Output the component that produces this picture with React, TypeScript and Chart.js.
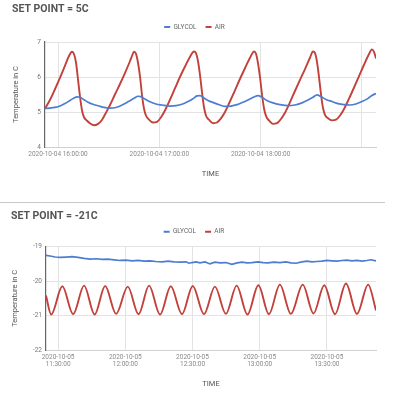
import React, { useEffect, useRef } from "react";
import { Chart, registerables } from "chart.js";

Chart.register(...registerables);

const FONT = "Roboto, 'Noto Sans', 'DejaVu Sans', sans-serif";
const BLUE = "#4d7dd1";
const RED = "#c2413b";
const GRID = "#e3e3e3";

// ---------- SET POINT = 5C  (x = minutes after 2020-10-04 15:00) ----------
const title5 = "SET POINT = 5C";
const xRange5 = [52.3, 248.3];
const xTicks5 = [60, 120, 180, 240];
const xTickLabels5 = ["2020-10-04 16:00:00", "2020-10-04 17:00:00", "2020-10-04 18:00:00", ""];
const yTicks5 = [4, 5, 6, 7];

const airTimes5 = [
  52.3, 55.3, 58.2, 61.2, 64.1, 66.5, 68.3, 69.5, 70.7, 71.8, 73.0, 74.2, 75.4, 77.2, 78.9, 81.3,
  83.7, 86.1, 88.4, 90.8, 93.7, 96.7, 99.7, 102.6, 103.8, 105.0, 106.2, 107.4, 108.6, 109.7, 110.9, 112.1,
  113.9, 116.2, 118.6, 121.0, 123.4, 126.3, 129.3, 132.2, 135.2, 138.2, 140.5, 141.7, 142.9, 144.1, 145.3, 146.4,
  147.6, 149.4, 151.8, 154.1, 156.5, 158.9, 161.8, 164.8, 167.8, 170.7, 173.7, 176.1, 177.2, 178.4, 179.6, 180.8,
  182.0, 183.2, 184.9, 187.3, 189.7, 192.0, 194.4, 197.4, 200.3, 203.3, 206.2, 209.2, 211.0, 212.2, 213.4, 214.5,
  215.7, 216.9, 218.1, 219.9, 222.2, 224.6, 227.0, 229.3, 232.3, 235.3, 238.2, 241.2, 244.1, 245.9, 247.1, 248.3,
];
const air5 = [
  5.1, 5.35, 5.65, 5.98, 6.32, 6.6, 6.72, 6.65, 6.4, 5.95, 5.45, 5.05, 4.85, 4.75, 4.68, 4.62,
  4.66, 4.78, 4.98, 5.2, 5.5, 5.8, 6.12, 6.45, 6.6, 6.72, 6.66, 6.4, 6.0, 5.5, 5.1, 4.9,
  4.78, 4.7, 4.72, 4.85, 5.05, 5.35, 5.68, 6.0, 6.3, 6.58, 6.73, 6.68, 6.45, 6.05, 5.55, 5.15,
  4.9, 4.78, 4.68, 4.7, 4.82, 5.0, 5.3, 5.62, 5.95, 6.25, 6.55, 6.73, 6.67, 6.4, 6.0, 5.5,
  5.1, 4.88, 4.76, 4.66, 4.68, 4.8, 4.98, 5.28, 5.6, 5.92, 6.22, 6.55, 6.73, 6.68, 6.42, 6.02,
  5.52, 5.12, 4.92, 4.82, 4.76, 4.78, 4.9, 5.08, 5.38, 5.7, 6.02, 6.35, 6.65, 6.79, 6.72, 6.53,
];
const glycolTimes5 = [
  52.3, 55.3, 58.2, 61.2, 64.1, 67.1, 69.5, 71.2, 73.0, 75.4, 77.8, 80.7, 83.7, 87.2, 90.8, 94.3,
  97.9, 101.4, 105.0, 107.4, 109.1, 111.5, 114.5, 118.0, 121.6, 126.3, 129.9, 133.4, 137.0, 139.9, 142.3, 144.1,
  146.4, 148.8, 152.4, 155.9, 158.9, 162.4, 166.0, 169.5, 173.1, 176.1, 178.4, 180.8, 183.7, 187.3, 191.4, 196.2,
  200.3, 204.5, 208.0, 211.0, 213.4, 215.7, 218.7, 222.2, 225.8, 229.3, 232.9, 236.4, 240.0, 243.6, 245.9, 248.3,
];
const glycol5 = [
  5.1, 5.11, 5.13, 5.17, 5.24, 5.33, 5.4, 5.43, 5.42, 5.35, 5.28, 5.22, 5.18, 5.13, 5.11, 5.13,
  5.2, 5.29, 5.39, 5.45, 5.44, 5.37, 5.29, 5.23, 5.2, 5.17, 5.18, 5.22, 5.3, 5.38, 5.46, 5.47,
  5.4, 5.33, 5.26, 5.2, 5.16, 5.17, 5.21, 5.28, 5.36, 5.43, 5.47, 5.42, 5.33, 5.26, 5.21, 5.18,
  5.2, 5.26, 5.34, 5.42, 5.49, 5.44, 5.36, 5.3, 5.24, 5.21, 5.2, 5.23, 5.3, 5.39, 5.47, 5.53,
];

// ---------- SET POINT = -21C  (x = minutes after 2020-10-05 11:00) ----------
const title21 = "SET POINT = -21C";
const xRange21 = [24.6, 171.9];
const xTicks21 = [30, 60, 90, 120, 150];
const xTickLabels21 = [
  ["2020-10-05", "11:30:00"],
  ["2020-10-05", "12:00:00"],
  ["2020-10-05", "12:30:00"],
  ["2020-10-05", "13:00:00"],
  ["2020-10-05", "13:30:00"],
];
const yTicks21 = [-22, -21, -20, -19];

const airTimes21 = [
  24.6, 26.9, 31.9, 36.7, 41.6, 46.3, 51.0, 55.9, 61.1, 65.9, 70.6, 75.5, 80.3, 85.3, 90.1, 95.1,
  100.0, 104.9, 109.7, 114.5, 119.4, 124.1, 129.0, 133.9, 139.2, 144.0, 148.8, 153.6, 158.5, 163.4, 168.4, 171.9,
];
const air21 = [
  -20.42, -20.97, -20.15, -20.96, -20.13, -20.97, -20.14, -20.95, -20.16, -20.96, -20.13, -20.97, -20.15, -20.96, -20.14, -20.96,
  -20.16, -20.95, -20.13, -20.97, -20.12, -20.96, -20.1, -20.95, -20.1, -20.94, -20.12, -20.96, -20.07, -20.95, -20.1, -20.85,
];
const glycolTimes21 = [
  24.6, 26.4, 28.7, 30.9, 33.6, 36.2, 38.9, 41.6, 44.3, 47.0, 49.6, 52.3, 55.0, 57.7, 60.3, 63.0,
  65.7, 68.4, 71.0, 73.7, 76.4, 79.1, 81.7, 84.4, 87.1, 88.4, 89.8, 91.6, 93.3, 95.6, 97.8, 100.0,
  102.3, 104.9, 107.6, 109.9, 112.1, 114.3, 116.5, 119.2, 121.5, 123.7, 126.4, 129.0, 131.7, 133.9, 136.2, 138.8,
  141.1, 143.3, 145.5, 147.8, 150.0, 152.2, 154.5, 156.7, 158.9, 161.2, 163.4, 165.6, 167.8, 169.6, 171.9,
];
const glycol21 = [
  -19.25, -19.27, -19.3, -19.31, -19.3, -19.29, -19.31, -19.34, -19.36, -19.35, -19.37, -19.36, -19.38, -19.4, -19.39, -19.41,
  -19.4, -19.42, -19.41, -19.43, -19.44, -19.42, -19.44, -19.45, -19.44, -19.48, -19.46, -19.44, -19.47, -19.44, -19.5, -19.45,
  -19.47, -19.46, -19.51, -19.47, -19.45, -19.47, -19.46, -19.44, -19.46, -19.47, -19.45, -19.46, -19.44, -19.47, -19.48, -19.44,
  -19.42, -19.44, -19.43, -19.42, -19.4, -19.41, -19.42, -19.4, -19.39, -19.41, -19.4, -19.42, -19.4, -19.38, -19.41,
];

type Panel = {
  title: string;
  xRange: number[];
  xTicks: number[];
  xLabels: (string | string[])[];
  yTicks: number[];
  airT: number[];
  air: number[];
  glyT: number[];
  gly: number[];
  glySmooth: boolean;
  padLeft: number;
  yAxisW: number;
  xAxisH: number;
  titlePadTop: number;
  titlePadBottom: number;
  legendH: number;
  xTitlePadBottom: number;
};

function legendHeightPlugin(h: number) {
  return {
    id: "legendHeight",
    beforeInit(chart: any) {
      const legend = chart.legend;
      if (!legend) return;
      const orig = legend.fit;
      legend.fit = function () {
        orig.call(legend);
        legend.height = h;
      };
    },
  };
}

function buildConfig(p: Panel): any {
  const pts = (ts: number[], vs: number[]) => ts.map((t, i) => ({ x: t, y: vs[i] }));
  return {
    type: "line",
    data: {
      datasets: [
        {
          label: "GLYCOL",
          data: pts(p.glyT, p.gly),
          borderColor: BLUE,
          backgroundColor: BLUE,
          borderWidth: 1.7,
          pointRadius: 0,
          cubicInterpolationMode: p.glySmooth ? "monotone" : "default",
          tension: 0,
        },
        {
          label: "AIR",
          data: pts(p.airT, p.air),
          borderColor: RED,
          backgroundColor: RED,
          borderWidth: 1.9,
          pointRadius: 0,
          cubicInterpolationMode: "monotone",
        },
      ],
    },
    options: {
      responsive: false,
      animation: false,
      events: [],
      layout: { padding: { left: p.padLeft, right: 23, top: 0, bottom: 0 } },
      plugins: {
        title: {
          display: true,
          text: p.title,
          align: "start",
          color: "#555",
          font: { family: FONT, size: 10.5, weight: "bold", lineHeight: 1 },
          padding: { top: p.titlePadTop, bottom: p.titlePadBottom },
        },
        legend: {
          display: true,
          position: "top",
          align: "center",
          labels: {
            boxWidth: 6,
            boxHeight: 2,
            padding: 9,
            color: "#666",
            font: { family: FONT, size: 6.5 },
            generateLabels: (chart: any) =>
              (Chart.defaults.plugins.legend.labels as any)
                .generateLabels(chart)
                .map((l: any) => ({ ...l, lineWidth: 0 })),
          },
        },
        tooltip: { enabled: false },
      },
      scales: {
        x: {
          type: "linear",
          min: p.xRange[0],
          max: p.xRange[1],
          afterBuildTicks: (s: any) => {
            s.ticks = p.xTicks.map((v) => ({ value: v }));
          },
          afterFit: (s: any) => {
            s.height = p.xAxisH;
          },
          grid: { color: GRID, drawTicks: false },
          border: { color: "#d0d0d0" },
          ticks: {
            autoSkip: false,
            maxRotation: 0,
            minRotation: 0,
            padding: 4,
            color: "#8a8a8a",
            font: { family: FONT, size: 6.5, lineHeight: 1.1 },
            callback: (v: number) => {
              const i = p.xTicks.indexOf(v);
              return i >= 0 ? p.xLabels[i] : "";
            },
          },
          title: {
            display: true,
            text: "TIME",
            color: "#555",
            font: { family: FONT, size: 7.5 },
            padding: { top: 0, bottom: p.xTitlePadBottom },
          },
        },
        y: {
          type: "linear",
          min: p.yTicks[0],
          max: p.yTicks[p.yTicks.length - 1],
          afterBuildTicks: (s: any) => {
            s.ticks = p.yTicks.map((v) => ({ value: v }));
          },
          afterFit: (s: any) => {
            s.width = p.yAxisW;
          },
          grid: { color: GRID, drawTicks: false },
          border: { color: "#666", width: 1.2 },
          ticks: { padding: 4, color: "#777", font: { family: FONT, size: 6.5 } },
          title: {
            display: true,
            text: "Temperature in C",
            color: "#555",
            font: { family: FONT, size: 7.5, lineHeight: 1 },
            padding: { top: 0, bottom: 0 },
          },
        },
        pad: {
          type: "linear",
          position: "right",
          display: true,
          grid: { display: false },
          border: { display: false },
          ticks: { display: false },
          afterFit: (s: any) => {
            s.width = 1;
          },
        },
      },
    },
    plugins: [legendHeightPlugin(p.legendH)],
  };
}

function LineChart({ panel, height }: { panel: Panel; height: number }) {
  const ref = useRef<HTMLCanvasElement>(null);
  useEffect(() => {
    const chart = new Chart(ref.current as HTMLCanvasElement, buildConfig(panel));
    return () => chart.destroy();
  }, [panel]);
  return <canvas ref={ref} width={400} height={height} style={{ display: "block" }} />;
}

const panel5: Panel = {
  title: title5,
  xRange: xRange5,
  xTicks: xTicks5,
  xLabels: xTickLabels5,
  yTicks: yTicks5,
  airT: airTimes5,
  air: air5,
  glyT: glycolTimes5,
  gly: glycol5,
  glySmooth: true,
  padLeft: 12,
  yAxisW: 33,
  xAxisH: 35,
  titlePadTop: 4.25,
  titlePadBottom: 0,
  legendH: 27.25,
  xTitlePadBottom: 3.5,
};

const panel21: Panel = {
  title: title21,
  xRange: xRange21,
  xTicks: xTicks21,
  xLabels: xTickLabels21,
  yTicks: yTicks21,
  airT: airTimes21,
  air: air21,
  glyT: glycolTimes21,
  gly: glycol21,
  glySmooth: false,
  padLeft: 11,
  yAxisW: 35,
  xAxisH: 44,
  titlePadTop: 8.05,
  titlePadBottom: -2.1,
  legendH: 27.25,
  xTitlePadBottom: 5.7,
};

export default function App() {
  return (
    <div style={{ position: "absolute", left: 0, top: 0, width: 400, height: 394, background: "#fff", overflow: "hidden" }}>
      <div style={{ position: "absolute", left: 0, top: 0 }}>
        <LineChart panel={panel5} height={182} />
      </div>
      <div style={{ position: "absolute", left: 0, top: 202, width: 385, height: 1, background: "#c8c8c8" }} />
      <div style={{ position: "absolute", left: 0, top: 203 }}>
        <LineChart panel={panel21} height={191} />
      </div>
    </div>
  );
}
